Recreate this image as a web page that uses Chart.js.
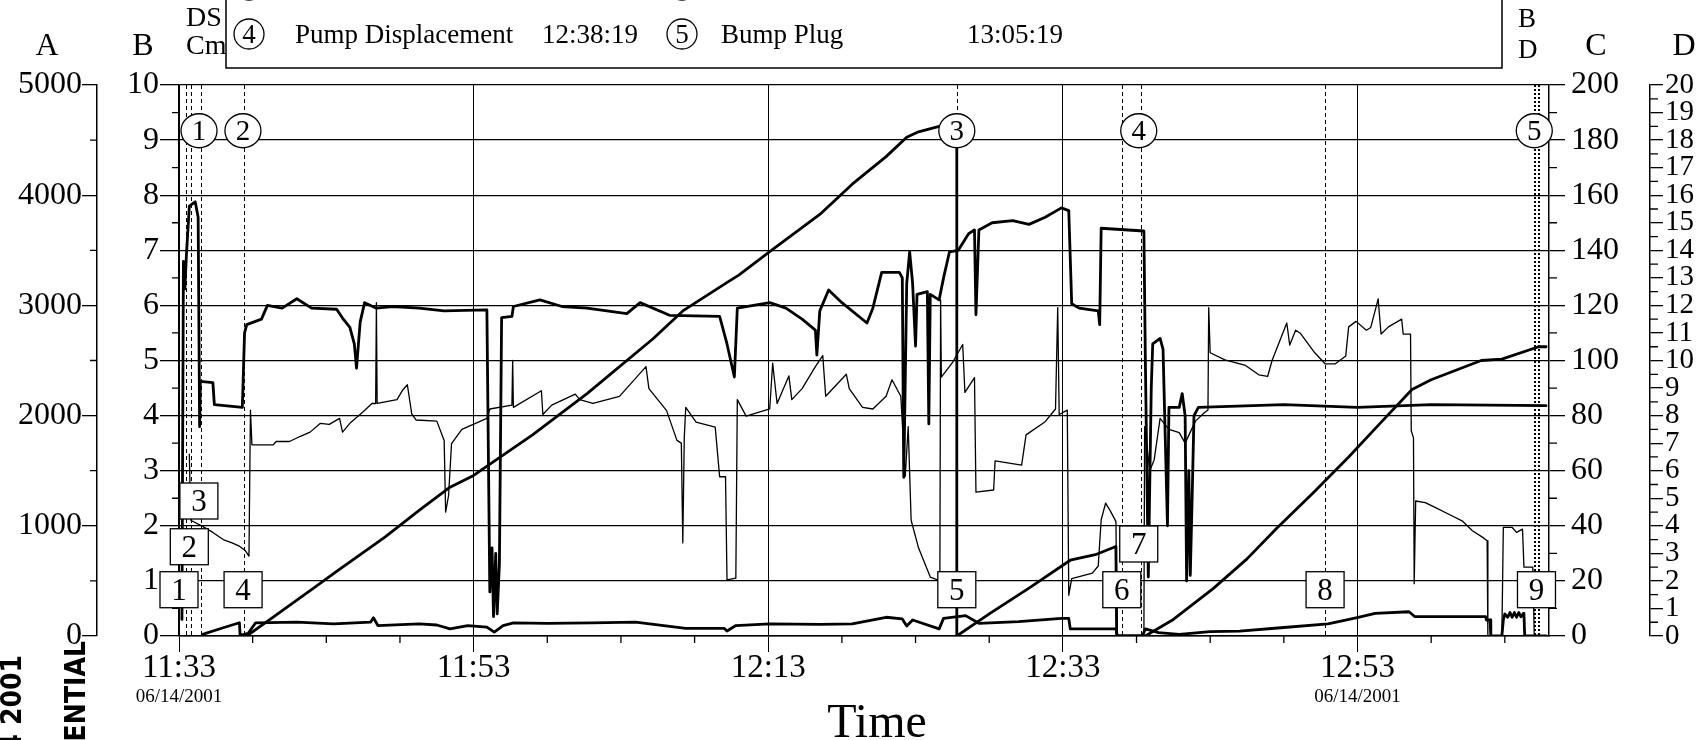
<!DOCTYPE html>
<html>
<head>
<meta charset="utf-8">
<script src="https://cdn.jsdelivr.net/npm/chart.js@4.4.1/dist/chart.umd.min.js"></script>
<style>
body { margin: 0; background: #fff; }
canvas { display: block; }
</style>
</head>
<body>
<canvas id="chart" width="1703" height="740"></canvas>
<script>
// time is in minutes after 11:33
// pressure on axis A (0-5000)
var pressure = [[0.2,150],[0.3,3400],[0.4,3150],[0.5,3450],[0.7,3900],[1.1,3940],[1.3,3800],[1.4,1900],[1.45,2310],[2.3,2300],[2.4,2100],[4.3,2075],[4.45,2750],[4.6,2825],[5.6,2875],[6.0,3000],[7.0,2975],[8.0,3060],[9.0,2975],[10.7,2965],[11.1,2885],[11.6,2800],[11.9,2650],[12.05,2430],[12.3,2850],[12.6,3025],[13.4,2975],[14.5,2990],[16.3,2975],[18.0,2950],[20.9,2960],[21.1,400],[21.25,800],[21.35,175],[21.5,750],[21.6,200],[21.75,650],[21.9,2890],[22.6,2900],[22.7,2990],[24.5,3050],[26,2990],[27.7,2975],[30.4,2925],[31.3,3025],[33.3,2910],[36.7,2900],[37.2,2650],[37.7,2350],[37.9,2975],[40.1,3025],[41.2,2975],[42.3,2875],[43.2,2775],[43.3,2550],[43.5,2950],[44.1,3140],[45.0,3025],[46.7,2840],[47.1,2975],[47.7,3300],[48.9,3300],[49.1,3250],[49.2,1440],[49.4,3200],[49.6,3485],[49.8,3200],[50.0,2630],[50.1,3100],[50.8,3125],[50.9,1925],[51.0,3100],[51.6,3050],[51.9,3250],[52.3,3485],[52.9,3500],[53.6,3650],[54.0,3685],[54.1,2915],[54.3,3685],[55.2,3750],[56.6,3770],[57.7,3735],[58.8,3800],[59.9,3885],[60.4,3860],[60.6,3015],[61.1,2975],[62.4,2950],[62.5,2825],[62.6,3700],[65.5,3675],[65.6,2500],[65.8,535],[66.0,2250],[66.1,2650],[66.6,2700],[66.8,2600],[67.1,1000],[67.2,2075],[67.9,2075],[68.1,2200],[68.3,2000],[68.4,500],[68.55,1500],[68.65,550],[68.8,1400],[68.9,2000],[69.2,2075],[75,2100],[80,2075],[85,2100],[92.8,2090]]

// density on axis B (0-10)
var density = [[0.7,3.3],[0.75,2.7],[0.8,2.1],[1.6,1.99],[2.3,1.88],[3.0,1.75],[3.6,1.69],[4.1,1.63],[4.5,1.55],[4.75,1.45],[4.85,4.1],[4.95,3.47],[6.4,3.47],[6.6,3.53],[7.5,3.53],[8.2,3.62],[8.9,3.7],[9.6,3.86],[10.2,3.84],[10.9,3.95],[11.1,3.7],[11.6,3.86],[12.5,4.07],[13.1,4.22],[13.35,4.22],[13.4,6.05],[13.45,4.22],[14.8,4.29],[15.2,4.47],[15.5,4.56],[15.8,4.03],[16.1,3.92],[17.5,3.9],[18.0,3.55],[18.1,2.25],[18.3,2.55],[18.5,3.49],[19.2,3.75],[20.9,3.95],[21.1,4.12],[22.6,4.19],[22.65,5.0],[22.7,4.15],[24.6,4.45],[24.7,4.02],[25.3,4.19],[26.9,4.39],[27.2,4.29],[28.1,4.22],[29.9,4.35],[31.7,4.89],[31.9,4.49],[33.1,4.09],[33.8,3.55],[34.1,3.5],[34.2,1.69],[34.3,3.6],[34.4,4.15],[35.1,3.88],[36.4,3.79],[36.7,2.89],[37.1,2.89],[37.2,1.02],[37.8,1.05],[37.9,4.29],[38.5,3.99],[40.1,4.12],[40.3,4.95],[40.6,4.22],[41.4,4.72],[41.6,4.29],[42.3,4.49],[43.2,4.89],[43.7,5.09],[43.9,4.35],[45.3,4.75],[45.5,4.49],[46.4,4.15],[47.1,4.12],[48.0,4.35],[48.4,4.65],[49.0,4.35],[49.3,2.9],[49.5,3.8],[49.7,2.1],[50.2,1.6],[51.0,1.07],[51.65,1.0],[51.7,6.1],[51.75,4.7],[52.5,4.96],[53.2,5.29],[53.35,4.42],[54.0,4.69],[54.1,2.61],[55.3,2.65],[55.4,3.18],[57.2,3.1],[57.5,3.65],[58.8,3.89],[59.5,4.12],[59.65,5.96],[59.75,4.02],[60.3,4.1],[60.4,0.74],[60.6,1.04],[62.0,1.14],[62.4,1.27],[62.6,2.11],[62.9,2.41],[63.2,2.28],[63.6,2.08],[63.7,0],[65.5,0],[65.55,3.8],[65.9,3.0],[66.2,3.2],[66.6,3.95],[67.2,3.75],[67.9,3.69],[68.3,3.5],[69.0,3.9],[69.6,4.05],[69.85,4.1],[69.9,5.96],[70.0,5.14],[71.0,5.01],[72.4,4.91],[73.3,4.74],[73.9,4.71],[74.2,5.0],[75.2,5.68],[75.4,5.28],[75.8,5.55],[76.1,5.5],[77.1,5.14],[77.8,4.94],[78.5,4.94],[79.2,5.08],[79.4,5.61],[79.9,5.71],[80.6,5.55],[80.9,5.6],[81.3,6.01],[81.4,6.12],[81.6,5.48],[82.1,5.61],[83.0,5.75],[83.1,5.48],[83.6,5.48],[83.65,3.72],[83.8,3.6],[83.85,0.95],[83.95,2.45],[84.6,2.42],[85.3,2.33],[86.2,2.21],[87.1,2.09],[87.8,1.91],[88.5,1.79],[88.8,1.73],[88.85,0],[89.8,0],[89.9,1.97],[90.5,1.97],[90.8,1.88],[91.2,1.94],[91.3,1.25],[91.9,1.25],[92.0,0]]

// displacement on axis C (0-200)
var volume = [[4.6,0],[6.3,6.5],[9.3,18],[10.7,23.5],[14,36],[16.3,45.6],[18.4,54],[20,58.3],[24,73],[27.7,88],[32.2,108],[34.2,118],[37.4,129],[38.0,131],[40.1,139.5],[43.5,153],[45.7,164],[48.0,174],[49.4,181],[50.2,183],[51.6,185],[52.8,185.5],[52.8,0],[55,8],[57.7,17.4],[60.5,27.5],[62.2,29.5],[63.6,32.5],[63.65,0],[65.6,0],[67.5,6],[70.2,17.2],[72.5,28],[74.5,39],[77,52],[79.4,65],[81.5,77],[83.7,89.5],[85,93],[88.4,100],[89.8,100.5],[92.3,105],[92.8,105]]

// rate on axis D (0-20)
var rate = [[1.6,0.06],[3.0,0.3],[4.1,0.48],[4.15,0.02],[4.7,0.1],[5.2,0.48],[8.0,0.5],[10.5,0.44],[13.0,0.5],[13.2,0.66],[13.5,0.38],[16.3,0.44],[17.5,0.4],[18.4,0.26],[19.6,0.38],[20.9,0.32],[21.4,0.14],[22.0,0.38],[22.7,0.48],[25,0.46],[28,0.48],[31,0.5],[34.4,0.28],[37.0,0.28],[37.2,0.18],[37.8,0.38],[40.1,0.44],[43.5,0.42],[45.7,0.44],[48.0,0.68],[49.1,0.62],[49.4,0.36],[49.8,0.58],[51.6,0.26],[51.9,0.64],[53.4,0.74],[54.3,0.46],[57,0.52],[59.9,0.64],[60.4,0.64],[60.5,0.26],[63.6,0.26],[63.7,0],[65.4,0],[65.6,0.26],[66.5,0.12],[67.9,0.06],[70,0.16],[72,0.18],[74.8,0.3],[78.0,0.44],[79.9,0.66],[81.2,0.82],[83.5,0.88],[83.9,0.7],[88.7,0.7],[88.75,0.58],[89.0,0.58],[89.05,0],[89.8,0],[89.9,0.58],[90.0,0.8],[90.2,0.68],[90.35,0.85],[90.5,0.68],[90.65,0.85],[90.8,0.68],[90.95,0.85],[91.1,0.7],[91.25,0.82],[91.3,0.78],[91.35,0],[92.8,0]]

// event markers
var circleLabels = ['1', '2', '3', '4', '5']
var circleTimes = [1.36, 4.34, 52.8, 65.15, 92.0]
var boxLabels = ['1', '2', '3', '4', '5', '6', '7', '8', '9']
var boxTimes = [0.0, 0.7, 1.35, 4.35, 52.8, 64.0, 65.15, 77.8, 92.15]
var boxLevels = [0.84, 1.62, 2.45, 0.84, 0.84, 0.84, 1.67, 0.84, 0.84]
var dashTimes = [0.45, 0.8, 1.5, 4.4, 52.8, 64.0, 65.3, 77.8]
var boldDashTimes = [92.05, 92.3]

var legendMarks = ['4', '5']
var legendNames = ['Pump Displacement', 'Bump Plug']
var legendTimes = ['12:38:19', '13:05:19']
var dateTicks = [0, 80]
var dateText = '06/14/2001'

var serif = '"Liberation Serif", "Times New Roman", serif'

function toXY(list)
{
	return list.map(function(p){ return {x: p[0], y: p[1]} })
}

function clockLabel(v)
{
	if (v % 20) return ''
	var t = 11 * 60 + 33 + v
	var h = Math.floor(t / 60), m = t % 60
	return h + ':' + (m < 10 ? '0' : '') + m
}

function yAxis(pos, weight, min, max, step, width, tick, pad, onChart, size)
{
	return {
		type: 'linear', position: pos, weight: weight, min: min, max: max,
		afterFit: function(s){ s.width = width },
		grid: { drawOnChartArea: onChart, color: '#000', lineWidth: 1.3, tickLength: tick },
		border: { color: '#000', width: 1.5 },
		ticks: { stepSize: step, padding: pad, autoSkip: false, color: '#000', font: { family: serif, size: size }, callback: function(v){ return String(v) } }
	}
}

var marks = {
	id: 'marks',
	beforeDatasetsDraw: function(chart)
	{
		var ctx = chart.ctx, s = chart.scales, a = chart.chartArea
		ctx.save()
		ctx.strokeStyle = '#000'
		// minor ticks
		ctx.lineWidth = 1.3
		ctx.beginPath()
		for (var v = 5; v < 93; v += 5)
		{
			if (v % 20 == 0) continue
			var px = s.x.getPixelForValue(v)
			ctx.moveTo(px, s.x.top); ctx.lineTo(px, s.x.top + 7)
		}
		for (var v = 0.5; v < 10; v += 1)
		{
			var py = s.B.getPixelForValue(v)
			ctx.moveTo(s.B.right - 7, py); ctx.lineTo(s.B.right, py)
		}
		for (var v = 500; v < 5000; v += 1000)
		{
			var py = s.A.getPixelForValue(v)
			ctx.moveTo(s.A.right - 7, py); ctx.lineTo(s.A.right, py)
		}
		for (var v = 10; v < 200; v += 20)
		{
			var py = s.C.getPixelForValue(v)
			ctx.moveTo(s.C.left, py); ctx.lineTo(s.C.left + 8, py)
		}
		for (var v = 0.5; v < 20; v += 1)
		{
			var py = s.D.getPixelForValue(v)
			ctx.moveTo(s.D.left, py); ctx.lineTo(s.D.left + 8, py)
		}
		ctx.stroke()

		ctx.lineWidth = 1
		ctx.setLineDash([4, 3])
		dashTimes.forEach(function(t)
		{
			var px = Math.round(s.x.getPixelForValue(t)) + 0.5
			ctx.beginPath(); ctx.moveTo(px, a.top); ctx.lineTo(px, a.bottom); ctx.stroke()
		})
		ctx.lineWidth = 2
		ctx.setLineDash([2, 2])
		boldDashTimes.forEach(function(t)
		{
			var px = Math.round(s.x.getPixelForValue(t))
			ctx.beginPath(); ctx.moveTo(px, a.top); ctx.lineTo(px, a.bottom); ctx.stroke()
		})
		ctx.restore()
	},
	afterDatasetsDraw: function(chart)
	{
		var ctx = chart.ctx, x = chart.scales.x, b = chart.scales.B
		ctx.save()
		ctx.strokeStyle = '#000'
		ctx.lineWidth = 1.3
		ctx.textAlign = 'center'
		ctx.textBaseline = 'middle'
		ctx.font = '29px ' + serif
		circleTimes.forEach(function(t, i)
		{
			var px = x.getPixelForValue(t), py = b.getPixelForValue(9.17)
			ctx.beginPath(); ctx.ellipse(px, py, 18, 17, 0, 0, Math.PI * 2)
			ctx.fillStyle = '#fff'; ctx.fill(); ctx.stroke()
			ctx.fillStyle = '#000'; ctx.fillText(circleLabels[i], px, py + 2)
		})
		ctx.font = '31px ' + serif
		boxTimes.forEach(function(t, i)
		{
			var px = x.getPixelForValue(t), py = b.getPixelForValue(boxLevels[i])
			ctx.fillStyle = '#fff'
			ctx.fillRect(px - 19, py - 18, 38, 36)
			ctx.strokeRect(px - 19, py - 18, 38, 36)
			ctx.fillStyle = '#000'; ctx.fillText(boxLabels[i], px, py + 2)
		})
		ctx.restore()
	},
	afterDraw: function(chart)
	{
		var ctx = chart.ctx, s = chart.scales
		ctx.save()
		ctx.strokeStyle = '#000'

		// axis headers
		ctx.fillStyle = '#000'
		ctx.textBaseline = 'alphabetic'
		ctx.textAlign = 'center'
		ctx.font = '32px ' + serif
		ctx.fillText('A', 47, 55)
		ctx.fillText('B', 143, 55)
		ctx.fillText('C', 1596, 55)
		ctx.fillText('D', 1684, 55)
		ctx.textAlign = 'left'
		ctx.font = '28px ' + serif
		ctx.fillText('DS', 186, 26)
		ctx.fillText('Cm', 186, 54)
		ctx.font = '27px ' + serif
		ctx.fillText('B', 1518, 27)
		ctx.fillText('D', 1518, 58)

		// legend box, only its lower row is on the page
		ctx.fillStyle = '#fff'
		ctx.lineWidth = 1.5
		ctx.fillRect(226, -5, 1276, 73)
		ctx.strokeRect(226, -5, 1276, 73)
		ctx.lineWidth = 1.3
		var markX = [249, 682], nameX = [295, 721], timeX = [542, 967]
		markX.forEach(function(cx)
		{
			ctx.beginPath(); ctx.arc(cx, -15, 15, 0, Math.PI * 2); ctx.stroke()
		})
		legendMarks.forEach(function(m, i)
		{
			ctx.beginPath(); ctx.arc(markX[i], 34, 15, 0, Math.PI * 2); ctx.stroke()
			ctx.fillStyle = '#000'
			ctx.textAlign = 'center'
			ctx.textBaseline = 'middle'
			ctx.font = '27px ' + serif
			ctx.fillText(m, markX[i], 36)
			ctx.textAlign = 'left'
			ctx.textBaseline = 'alphabetic'
			ctx.fillText(legendNames[i], nameX[i], 43)
			ctx.fillText(legendTimes[i], timeX[i], 43)
		})

		// dates under some time ticks
		ctx.fillStyle = '#000'
		ctx.textAlign = 'center'
		ctx.textBaseline = 'middle'
		ctx.font = '19px ' + serif
		dateTicks.forEach(function(t){ ctx.fillText(dateText, s.x.getPixelForValue(t), 697) })

		ctx.textBaseline = 'alphabetic'
		ctx.font = '48px ' + serif
		ctx.fillText('Time', 877, 737)

		// stamp text on the scan margin
		ctx.font = 'bold 28px "Liberation Sans Narrow", "DejaVu Sans Condensed", sans-serif'
		ctx.textAlign = 'right'
		ctx.textBaseline = 'middle'
		ctx.save(); ctx.translate(78, 641); ctx.rotate(-Math.PI / 2); ctx.fillText('CONFIDENTIAL', 0, 0); ctx.restore()
		ctx.save(); ctx.translate(14, 655); ctx.rotate(-Math.PI / 2); ctx.fillText('14 2001', 0, 0); ctx.restore()
		ctx.restore()
	}
}

var chart = new Chart(document.getElementById('chart'), {
	type: 'line',
	data: {
		datasets: [
			{ label: 'pressure', data: toXY(pressure), yAxisID: 'A', borderColor: '#000', borderWidth: 2.8 },
			{ label: 'density', data: toXY(density), yAxisID: 'B', borderColor: '#000', borderWidth: 1.3 },
			{ label: 'volume', data: toXY(volume), yAxisID: 'C', borderColor: '#000', borderWidth: 2.8 },
			{ label: 'rate', data: toXY(rate), yAxisID: 'D', borderColor: '#000', borderWidth: 2.8 }
		]
	},
	options: {
		responsive: false,
		animation: false,
		devicePixelRatio: 1,
		layout: { padding: { top: 85, left: 0, right: 0, bottom: 0 } },
		elements: {
			point: { radius: 0 },
			line: { tension: 0, borderJoinStyle: 'round', borderCapStyle: 'round' }
		},
		plugins: {
			legend: { display: false },
			tooltip: { enabled: false }
		},
		scales: {
			x: {
				type: 'linear', position: 'bottom', min: 0, max: 93,
				afterFit: function(s){ s.height = 104 },
				grid: { color: '#000', lineWidth: 1, tickLength: 16 },
				border: { color: '#000', width: 1.5 },
				ticks: { stepSize: 20, includeBounds: false, maxRotation: 0, autoSkip: false, padding: -3, color: '#000', font: { family: serif, size: 33 }, callback: clockLabel }
			},
			A: yAxis('left', 2, 0, 5000, 1000, 97, 15, 0, false, 32),
			B: yAxis('left', 1, 0, 10, 1, 82, 19, 1, true, 32),
			C: yAxis('right', 1, 0, 200, 20, 101, 16, 6, false, 32),
			D: yAxis('right', 2, 0, 20, 1, 53, 13, 2, false, 29)
		}
	},
	plugins: [marks]
})
</script>
</body>
</html>
